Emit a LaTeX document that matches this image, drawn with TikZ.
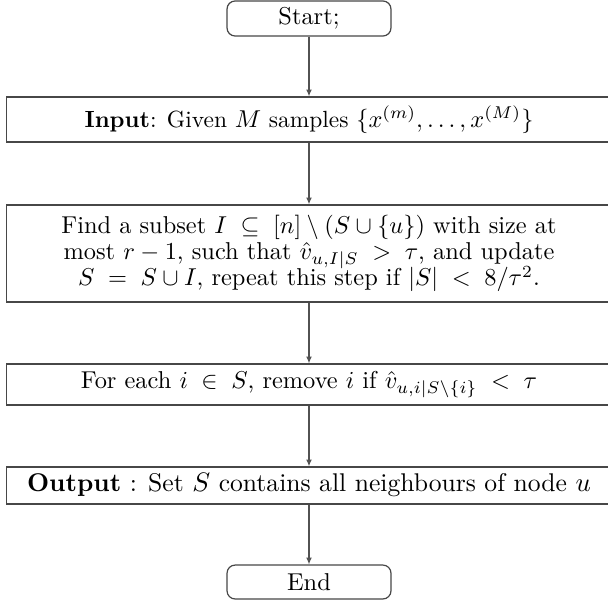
\documentclass[tikz,border=0pt]{standalone}
\usepackage{amsmath,amssymb}
\usetikzlibrary{arrows.meta}
\begin{document}
\begin{tikzpicture}[x=0.41pt,y=-0.41pt,
  term/.style={draw=black!72, line width=0.5pt, rounded corners=3.3pt, minimum width=67.2pt, inner sep=0pt, align=center},
  procbox/.style={draw=black!72, line width=0.5pt, minimum width=248pt, inner sep=0pt, align=center},
  flow/.style={draw=black!68, line width=0.5pt, -{Latex[length=2.8pt,width=2.4pt]}}]
\useasboundingbox (0,0) rectangle (608,602);
\node[term, minimum height=14.35pt] (start) at (309,18.5) {Start;};
\node[procbox, minimum height=18.45pt, font=\fontsize{9.6}{11.5}\selectfont] (input) at (309,119.5) {\textbf{Input}: Given $M$ samples $\{x^{(m)},\ldots,x^{(M)}\}$};
\node[procbox, minimum height=39.8pt] (find) at (309,253.5) {Find a subset $I\;\subseteq\;[n]\setminus(S\cup\{u\})$ with size at\\[-1.2pt] most $r-1$, such that $\hat{v}_{u,I|S}\;>\;\tau$, and update\\[-1.2pt] $S\;=\;S\cup I$, repeat this step if $|S|\;<\;8/\tau^2$.};
\node[procbox, minimum height=16.8pt] (each) at (309,384.5) {For each $i\;\in\;S$, remove $i$ if $\hat{v}_{u,i|S\setminus\{i\}}\;<\;\tau$};
\node[procbox, minimum height=15.2pt, font=\fontsize{10.5}{12.6}\selectfont] (output) at (309,485.5) {\textbf{Output} : Set $S$ contains all neighbours of node $u$};
\node[term, minimum height=13.9pt] (end) at (309,582) {End};
\draw[flow] (start) -- (input);
\draw[flow] (input) -- (find);
\draw[flow] (find) -- (each);
\draw[flow] (each) -- (output);
\draw[flow] (output) -- (end);
\end{tikzpicture}
\end{document}
